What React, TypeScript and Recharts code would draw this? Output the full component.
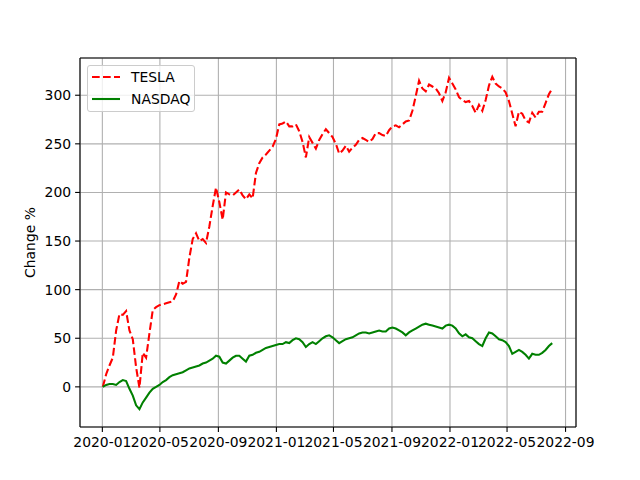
import { LineChart, Line, XAxis, YAxis, CartesianGrid, ReferenceLine } from 'recharts';

// weekly samples
const dates = [
  '2020-01-02', '2020-01-09', '2020-01-16', '2020-01-23', '2020-01-30',
  '2020-02-06', '2020-02-13', '2020-02-20', '2020-02-27',
  '2020-03-05', '2020-03-12', '2020-03-19', '2020-03-26',
  '2020-04-02', '2020-04-09', '2020-04-16', '2020-04-23', '2020-04-30',
  '2020-05-07', '2020-05-14', '2020-05-21', '2020-05-28',
  '2020-06-04', '2020-06-11', '2020-06-18', '2020-06-25',
  '2020-07-02', '2020-07-09', '2020-07-16', '2020-07-23', '2020-07-30',
  '2020-08-06', '2020-08-13', '2020-08-20', '2020-08-27',
  '2020-09-03', '2020-09-10', '2020-09-17', '2020-09-24',
  '2020-10-01', '2020-10-08', '2020-10-15', '2020-10-22', '2020-10-29',
  '2020-11-05', '2020-11-12', '2020-11-19', '2020-11-26',
  '2020-12-03', '2020-12-10', '2020-12-17', '2020-12-24', '2020-12-31',
  '2021-01-07', '2021-01-14', '2021-01-21', '2021-01-28',
  '2021-02-04', '2021-02-11', '2021-02-18', '2021-02-25',
  '2021-03-04', '2021-03-11', '2021-03-18', '2021-03-25',
  '2021-04-01', '2021-04-08', '2021-04-15', '2021-04-22', '2021-04-29',
  '2021-05-06', '2021-05-13', '2021-05-20', '2021-05-27',
  '2021-06-03', '2021-06-10', '2021-06-17', '2021-06-24',
  '2021-07-01', '2021-07-08', '2021-07-15', '2021-07-22', '2021-07-29',
  '2021-08-05', '2021-08-12', '2021-08-19', '2021-08-26',
  '2021-09-02', '2021-09-09', '2021-09-16', '2021-09-23', '2021-09-30',
  '2021-10-07', '2021-10-14', '2021-10-21', '2021-10-28',
  '2021-11-04', '2021-11-11', '2021-11-18', '2021-11-25',
  '2021-12-02', '2021-12-09', '2021-12-16', '2021-12-23', '2021-12-30',
  '2022-01-06', '2022-01-13', '2022-01-20', '2022-01-27',
  '2022-02-03', '2022-02-10', '2022-02-17', '2022-02-24',
  '2022-03-03', '2022-03-10', '2022-03-17', '2022-03-24', '2022-03-31',
  '2022-04-07', '2022-04-14', '2022-04-21', '2022-04-28',
  '2022-05-05', '2022-05-12', '2022-05-19', '2022-05-26',
  '2022-06-02', '2022-06-09', '2022-06-16', '2022-06-23', '2022-06-30',
  '2022-07-07', '2022-07-14', '2022-07-21', '2022-07-28',
  '2022-08-04',
];

const tesla = [
  0, 13, 22, 30, 58, 75, 74, 78, 58, 49,
  20, -1, 35, 30, 55, 79, 82, 84, 85, 86,
  87, 88, 95, 109, 106, 108, 133, 152, 158, 150,
  152, 148, 165, 186, 205, 190, 172, 200, 198, 197,
  200, 203, 197, 193, 198, 194, 220, 230, 236, 239,
  243, 247, 255, 270, 271, 273, 268, 268, 270, 263,
  252, 236, 257, 251, 245, 254, 260, 265, 261, 257,
  250, 240, 243, 248, 242, 246, 249, 254, 256, 254,
  252, 255, 261, 261, 259, 258, 264, 268, 269, 267,
  270, 273, 274, 284, 299, 315, 307, 304, 311, 309,
  307, 302, 294, 303, 318, 312, 306, 298, 295, 293,
  294, 289, 282, 290, 284, 295, 310, 319, 312, 309,
  307, 303, 294, 281, 268, 283, 281, 274, 272, 282,
  277, 283, 283, 292, 301, 307,
];

const nasdaq = [
  0, 2, 3, 3, 2, 5, 7, 6, -2, -9,
  -19, -23, -16, -11, -6, -2, 0, 2, 5, 7,
  10, 12, 13, 14, 15, 17, 19, 20, 21, 22,
  24, 25, 27, 29, 32, 31, 25, 24, 27, 30,
  32, 32, 29, 26, 32, 33, 35, 36, 38, 40,
  41, 42, 43, 44, 44, 46, 45, 48, 50, 49,
  46, 41, 44, 46, 44, 47, 50, 52, 53, 51,
  48, 45, 47, 49, 50, 51, 53, 55, 56, 56,
  55, 56, 57, 58, 57, 57, 60, 61, 60, 58,
  56, 53, 56, 58, 60, 62, 64, 65, 64, 63,
  62, 61, 60, 63, 64, 63, 60, 55, 52, 54,
  51, 50, 47, 44, 42, 50, 56, 55, 52, 49,
  48, 46, 42, 34, 36, 38, 36, 33, 29, 34,
  33, 33, 35, 38, 42, 45,
];

const xTicks = ['2020-01-01', '2020-05-01', '2020-09-01', '2021-01-01', '2021-05-01', '2021-09-01', '2022-01-01', '2022-05-01', '2022-09-01'];
const yTicks = [0, 50, 100, 150, 200, 250, 300];

const xDomain = [Date.parse('2019-11-15'), Date.parse('2022-09-23')];
const yDomain = [-41.3, 338.3];

const data = dates.map((d, i) => ({ t: Date.parse(d), tesla: tesla[i], nasdaq: nasdaq[i] }));

const FONT = 'DejaVu Sans, sans-serif';
const tickStyle = { fontSize: 13.9, fill: '#000', fontFamily: FONT };
const LW = 2.08; // 1.5pt
const DASH = '7.7 3.3';

const legendRows = [
  { name: 'TESLA', color: '#ff0000', dash: DASH },
  { name: 'NASDAQ', color: '#008000', dash: undefined },
];

function LegendBox() {
  return (
    <div
      style={{
        position: 'absolute',
        left: 87,
        top: 65,
        border: '1px solid #cccccc',
        borderRadius: 3,
        background: 'rgba(255,255,255,0.8)',
        padding: '0 4px 1px 4px',
        fontFamily: FONT,
        fontSize: 13.9,
        color: '#000',
      }}
    >
      {legendRows.map(r => (
        <div key={r.name} style={{ display: 'flex', alignItems: 'center', height: 22 }}>
          <svg width={28} height={4} style={{ marginRight: 11 }}>
            <line x1={0} y1={2} x2={28} y2={2} stroke={r.color} strokeWidth={LW} strokeDasharray={r.dash} />
          </svg>
          <span>{r.name}</span>
        </div>
      ))}
    </div>
  );
}

export default function App() {
  return (
    <div style={{ position: 'absolute', left: 0, top: 0, width: 640, height: 480, background: '#fff' }}>
      <LineChart width={640} height={480} data={data} margin={{ top: 58, right: 64, bottom: 0, left: 0 }}>
        <CartesianGrid stroke="#b0b0b0" strokeWidth={1.1} />
        <XAxis
          dataKey="t"
          type="number"
          scale="time"
          domain={xDomain}
          allowDataOverflow
          ticks={xTicks.map(d => Date.parse(d))}
          tickFormatter={(v: number) => new Date(v).toISOString().slice(0, 7)}
          interval={0}
          height={53}
          tick={tickStyle}
          tickSize={4.9}
          tickMargin={5}
          stroke="#000"
          strokeWidth={1.1}
        />
        <YAxis
          type="number"
          domain={yDomain}
          allowDataOverflow
          ticks={yTicks}
          interval={0}
          width={80}
          tick={tickStyle}
          tickSize={4.9}
          tickMargin={4}
          stroke="#000"
          strokeWidth={1.1}
          label={{
            content: () => (
              <text
                x={30}
                y={242.5}
                transform="rotate(-90 30 242.5)"
                textAnchor="middle"
                dominantBaseline="central"
                fontSize={13.9}
                fontFamily={FONT}
                fill="#000"
              >
                Change %
              </text>
            ),
          }}
        />
        <ReferenceLine y={yDomain[1]} stroke="#000" strokeWidth={1.1} />
        <ReferenceLine x={xDomain[1]} stroke="#000" strokeWidth={1.1} />
        <Line
          type="linear"
          dataKey="tesla"
          name="TESLA"
          stroke="#ff0000"
          strokeWidth={LW}
          strokeDasharray={DASH}
          dot={false}
          isAnimationActive={false}
        />
        <Line
          type="linear"
          dataKey="nasdaq"
          name="NASDAQ"
          stroke="#008000"
          strokeWidth={LW}
          dot={false}
          isAnimationActive={false}
        />
      </LineChart>
      <LegendBox />
    </div>
  );
}
